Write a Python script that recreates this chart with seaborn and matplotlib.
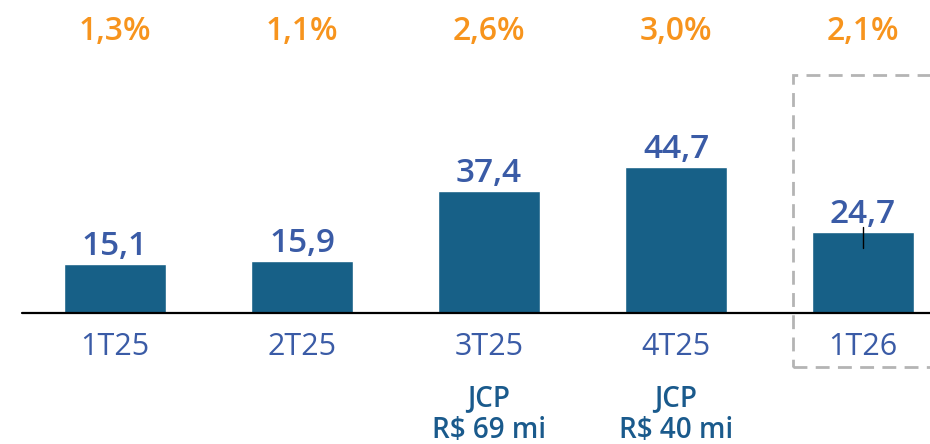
import matplotlib.pyplot as plt
import seaborn as sns
import pandas as pd
from matplotlib.patches import Rectangle

# data
periods = ['1T25', '2T25', '3T25', '4T25', '1T26']
values = [15.1, 15.9, 37.4, 44.7, 24.7]
pct_labels = ['1,3%', '1,1%', '2,6%', '3,0%', '2,1%']
notes = ['', '', 'JCP\nR$ 69 mi', 'JCP\nR$ 40 mi', '']

bar_color = '#176087'
label_blue = '#3a5ba6'
orange = '#f7941d'
note_blue = '#1a5a8c'

sns.set_style('white')
plt.rcParams['font.family'] = ['Open Sans', 'DejaVu Sans']

df = pd.DataFrame({'period': periods, 'value': values})

fig = plt.figure(figsize=(9.3, 4.44), dpi=100)
ax = fig.add_axes([0, 0, 1, 1])
sns.barplot(data=df, x='period', y='value', color=bar_color, width=0.55,
            saturation=1, ax=ax)

ax.set_xlim(-0.615, 4.358)
ax.set_ylim(-40.1, 95.7)
ax.axis('off')
ax.axhline(0, color='black', lw=1.6, xmin=0.0237, xmax=1)

for i, v in enumerate(values):
    ax.text(i, v + 2.7, f'{v:.1f}'.replace('.', ','), ha='center', va='baseline',
            fontsize=24, color=label_blue, fontweight='semibold')
    ax.text(i, 83.5, pct_labels[i], ha='center', va='baseline',
            fontsize=23, color=orange, fontweight='semibold')
    ax.text(i, -12.8, periods[i], ha='center', va='baseline',
            fontsize=22, color=label_blue)
    if notes[i]:
        ax.text(i, -38.2, notes[i], ha='center', va='baseline',
                fontsize=20, color=note_blue, fontweight='semibold',
                linespacing=1.1)

# small tick on last bar
ax.plot([4, 4], [values[4] - 4.7, values[4] + 1.7], color='black', lw=1)

# dashed highlight box around last period
ax.add_patch(Rectangle((3.626, -16.5), 1.0, 89.3, fill=False, ls=(0, (5, 3)),
                       ec='#b4b4b4', lw=2, clip_on=False))

fig.savefig('out.png', dpi=100)
